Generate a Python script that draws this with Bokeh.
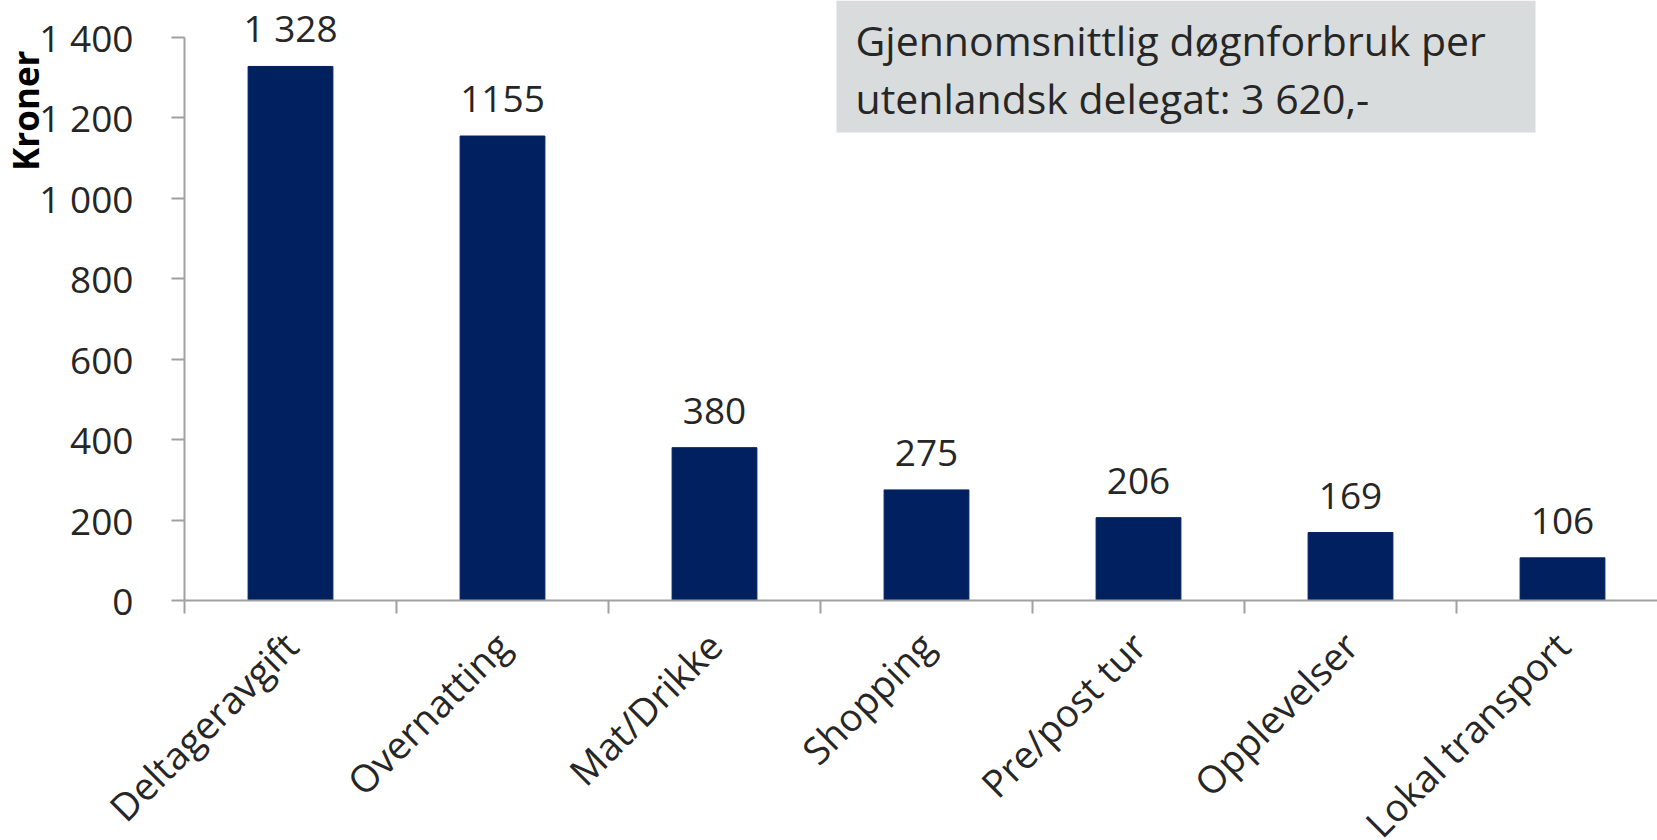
import math
from bokeh.plotting import figure
from bokeh.models import (Range1d, FixedTicker, LabelSet, Label, BoxAnnotation,
                          ColumnDataSource)
from bokeh.core.properties import value
from bokeh.embed import file_html
from bokeh.resources import INLINE

# ---- data ----
categories = ["Deltageravgift", "Overnatting", "Mat/Drikke", "Shopping",
              "Pre/post tur", "Opplevelser", "Lokal transport"]
values = [1328, 1155, 380, 275, 206, 169, 106]
value_labels = ["1 328", "1155", "380", "275", "206", "169", "106"]
y_ticks = [0, 200, 400, 600, 800, 1000, 1200, 1400]
y_tick_labels = ["0", "200", "400", "600", "800", "1 000", "1 200", "1 400"]
y_axis_title = "Kroner"
note_lines = ["Gjennomsnittlig døgnforbruk per", "utenlandsk delegat: 3 620,-"]

# ---- style / layout ----
FONT = "Open Sans"
TEXT = "#262626"
AXIS = "#A0A0A0"
BAR = "#002060"
BOX = "#D9DCDD"

W, H = 1657, 840
X0_PX, CAT_PX = 184, 212          # pixel of x origin, pixels per category
Y0_PX, YTOP_PX = 600, 37          # pixel of y=0 and of the top tick
YMAX = y_ticks[-1]
px_per_unit = (Y0_PX - YTOP_PX) / YMAX

x_start = -X0_PX / CAT_PX
x_end = (W - X0_PX) / CAT_PX
y_start = -(H - Y0_PX) / px_per_unit
y_end = Y0_PX / px_per_unit

xs = [i + 0.5 for i in range(len(categories))]
src = ColumnDataSource(dict(x=xs, top=values, label=value_labels))

p = figure(width=W, height=H, output_backend="svg", toolbar_location=None,
           x_range=Range1d(x_start, x_end), y_range=Range1d(y_start, y_end),
           min_border_left=0, min_border_right=0, min_border_top=0,
           min_border_bottom=0)
p.outline_line_color = None
p.xgrid.visible = False
p.ygrid.visible = False
p.background_fill_color = "white"
p.border_fill_color = "white"

# note box
p.add_layout(BoxAnnotation(left=836, right=1535, bottom=H - 132, top=H,
                           left_units="screen", right_units="screen",
                           bottom_units="screen", top_units="screen",
                           fill_color=BOX, fill_alpha=1.0, line_color=None,
                           level="underlay"))

p.vbar(x="x", top="top", width=0.4, source=src, color=BAR)

# x axis
xa = p.xaxis[0]
xa.fixed_location = 0
xa.bounds = (0, x_end)
xa.ticker = FixedTicker(ticks=xs, minor_ticks=list(range(len(categories) + 1)))
xa.major_label_overrides = dict(zip(xs, categories))
xa.major_label_orientation = math.pi / 4
xa.major_tick_line_color = None
xa.major_tick_in = 0
xa.major_tick_out = 13
xa.major_label_standoff = 25
xa.major_label_text_font = FONT
xa.major_label_text_font_size = "38px"
xa.major_label_text_color = TEXT
xa.minor_tick_in = 0
xa.minor_tick_out = 13
xa.minor_tick_line_color = AXIS
xa.minor_tick_line_width = 2
xa.axis_line_color = AXIS
xa.axis_line_width = 2

# y axis
ya = p.yaxis[0]
ya.fixed_location = 0
ya.bounds = (0, YMAX)
ya.ticker = FixedTicker(ticks=y_ticks, minor_ticks=[])
ya.major_label_overrides = dict(zip(y_ticks, y_tick_labels))
ya.major_tick_in = 0
ya.major_tick_out = 13
ya.major_tick_line_color = AXIS
ya.major_tick_line_width = 2
ya.minor_tick_line_color = None
ya.axis_line_color = AXIS
ya.axis_line_width = 2
ya.major_label_standoff = 38
ya.major_label_text_font = FONT
ya.major_label_text_font_size = "37px"
ya.major_label_text_color = TEXT

# y axis title
p.add_layout(Label(x=0, y=YMAX, x_offset=-159, y_offset=-13, text=y_axis_title,
                   angle=math.pi / 2, text_align="right", text_baseline="alphabetic",
                   text_font=FONT, text_font_style="bold", text_font_size="35px",
                   text_color="black"))

# value labels
p.add_layout(LabelSet(x="x", y="top", text="label", source=src, y_offset=24,
                      text_align="center", text_baseline="alphabetic",
                      text_font=value(FONT), text_font_size=value("37px"),
                      text_color=TEXT))

# note text
for i, line in enumerate(note_lines):
    p.add_layout(Label(x=0, y=0, x_offset=671, y_offset=561 - 58 * i, text=line,
                       text_align="left", text_baseline="alphabetic",
                       text_font=FONT, text_font_size="41px", text_color=TEXT))

open("out.html", "w").write(file_html(p, INLINE))
